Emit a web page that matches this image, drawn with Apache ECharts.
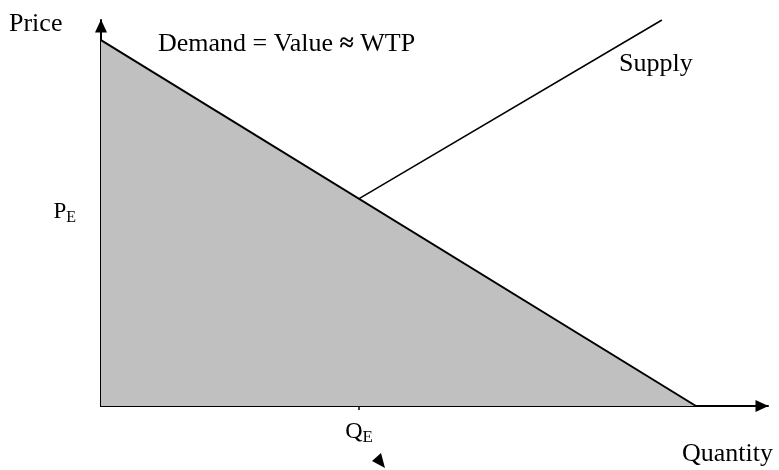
<!DOCTYPE html>
<html>
<head>
<meta charset="utf-8">
<script src="https://cdn.jsdelivr.net/npm/echarts@6/dist/echarts.min.js"></script>
<style>
  html, body { margin: 0; padding: 0; background: #fff; }
  #chart { width: 779px; height: 470px; }
</style>
</head>
<body>
<div id="chart"></div>
<script>
// 需求曲线和供给曲线的点 (x = 数量, y = 价格)
const demandPoints = [[0, 94.8], [89.2, 0]]
const supplyPoints = [[38.7, 53.7], [84.1, 100]]
const qE = 38.7 // 均衡数量
const pE = 53.7 // 均衡价格

const serif = 'Liberation Serif, Times New Roman, serif'
const chart = echarts.init(document.getElementById('chart'))

// 坐标轴的箭头
const axisLine = {
  lineStyle: { color: '#000', width: 2 },
  symbol: ['none', 'triangle'],
  symbolSize: [12, 13],
  symbolOffset: [0, -6]
}

const option = {
  animation: false,
  grid: { left: 101, top: 20, width: 667, height: 386 },
  xAxis: {
    type: 'value',
    min: 0,
    max: 100,
    splitLine: { show: false },
    axisLine: axisLine,
    axisTick: {
      show: true,
      customValues: [qE],
      length: 4,
      lineStyle: { color: '#000', width: 1.5 }
    },
    axisLabel: {
      customValues: [qE],
      margin: 11,
      formatter: () => '{m|Q}{s|E}',
      rich: {
        m: { fontFamily: serif, fontSize: 24, color: '#000' },
        s: { fontFamily: serif, fontSize: 17, color: '#000', padding: [12, 0, 0, 0] }
      }
    }
  },
  yAxis: {
    type: 'value',
    min: 0,
    max: 100,
    splitLine: { show: false },
    axisLine: axisLine,
    axisTick: { show: false },
    axisLabel: {
      customValues: [pE],
      margin: 25,
      verticalAlign: 'top',
      formatter: () => '{m|P}{s|E}',
      rich: {
        m: { fontFamily: serif, fontSize: 23, color: '#000' },
        s: { fontFamily: serif, fontSize: 16, color: '#000', padding: [11, 0, 0, 0] }
      }
    }
  },
  series: [
    {
      name: 'Demand',
      type: 'line',
      data: demandPoints,
      symbol: 'none',
      lineStyle: { color: '#000', width: 2 },
      areaStyle: { color: '#c0c0c0', opacity: 1 },
      z: 2
    },
    {
      name: 'Supply',
      type: 'line',
      data: supplyPoints,
      symbol: 'none',
      lineStyle: { color: '#000', width: 1.5 },
      z: 3
    }
  ],
  graphic: [
    { type: 'text', left: 9, top: 11, style: { text: 'Price', font: '26px ' + serif, fill: '#000' } },
    {
      type: 'text',
      left: 158,
      top: 31,
      style: {
        text: 'Demand = Value {b|≈} WTP',
        font: '26px ' + serif,
        fill: '#000',
        rich: { b: { fontFamily: serif, fontSize: 26, fontWeight: 'bold' } }
      }
    },
    { type: 'text', left: 619, top: 51, style: { text: 'Supply', font: '26px ' + serif, fill: '#000' } },
    { type: 'text', left: 173, top: 277, style: { text: 'Total Value', font: 'bold 26px ' + serif, fill: '#000' } },
    { type: 'text', left: 682, top: 441, style: { text: 'Quantity', font: '26px ' + serif, fill: '#000' } },
    // 小箭头
    { type: 'polygon', shape: { points: [[372, 461], [381, 453], [385, 468]] }, style: { fill: '#000' } }
  ]
}
chart.setOption(option)
</script>
</body>
</html>
